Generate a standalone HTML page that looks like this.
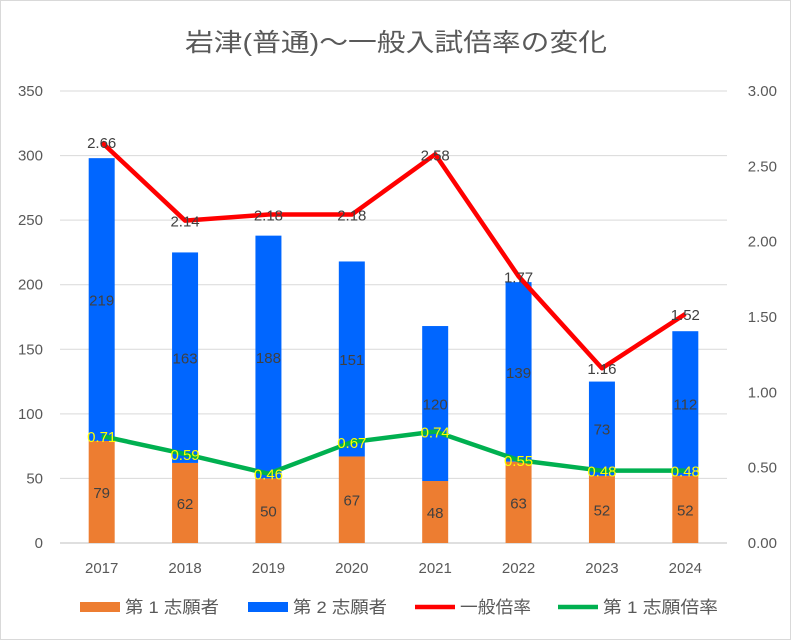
<!DOCTYPE html>
<html><head><meta charset="utf-8"><style>
body{margin:0;background:#fff;}
svg{display:block;font-family:"Liberation Sans","Noto Sans CJK JP",sans-serif;}
</style></head><body>
<svg id="c" width="791" height="640">
<rect x="0.5" y="0.5" width="790" height="639" fill="#fff" stroke="#d9d9d9"/>
<text x="185" y="51" font-size="25" textLength="422" lengthAdjust="spacingAndGlyphs" fill="#595959">岩津(普通)～一般入試倍率の変化</text>
<g id="grid"></g><g id="bars"></g><g id="lines"></g><g id="labels"></g><g id="axes"></g>
<g id="legend"></g>
</svg>
<script>
const categories=["2017","2018","2019","2020","2021","2022","2023","2024"];
const first=[79,62,50,67,48,63,52,52];
const second=[219,163,188,151,120,139,73,112];
const general=[2.66,2.14,2.18,2.18,2.58,1.77,1.16,1.52];
const firstRate=[0.71,0.59,0.46,0.67,0.74,0.55,0.48,0.48];
const leftTicks=[0,50,100,150,200,250,300,350];
const rightTicks=["0.00","0.50","1.00","1.50","2.00","2.50","3.00"];
const NS="http://www.w3.org/2000/svg";
const X0=60,X1=727,Y0=543,Y1=91;
const step=(X1-X0)/categories.length;
const xc=i=>X0+step*(i+0.5);
const yl=v=>Y0-(v/350)*(Y0-Y1);
const yr=v=>Y0-(v/3)*(Y0-Y1);
function mk(p,tag,a){const e=document.createElementNS(NS,tag);for(const k in a)e.setAttribute(k,a[k]);document.getElementById(p).appendChild(e);return e;}
leftTicks.forEach(t=>{
 const g=mk('grid','line',{x1:X0,x2:X1,y1:yl(t),y2:yl(t),stroke:t===0?'#bfbfbf':'#d9d9d9','stroke-width':1});
 
 
 const l=mk('axes','text',{x:43,y:yl(t)+5,'text-anchor':'end','font-size':15,fill:'#595959'});l.textContent=t;
 
 
});
rightTicks.forEach(t=>{
 const l=mk('axes','text',{x:777,y:yr(+t)+5,'text-anchor':'end','font-size':15,fill:'#595959'});l.textContent=t;
 
 
});
categories.forEach((c,i)=>{
 const l=mk('axes','text',{x:xc(i),y:573,'text-anchor':'middle','font-size':15,fill:'#595959'});l.textContent=c;
 
 
 const bw=26;
 const b1=mk('bars','rect',{x:xc(i)-bw/2,y:yl(first[i]),width:bw,height:Y0-yl(first[i]),fill:'#ed7d31'});
 
 
 const b2=mk('bars','rect',{x:xc(i)-bw/2,y:yl(first[i]+second[i]),width:bw,height:yl(first[i])-yl(first[i]+second[i]),fill:'#0066ff'});
 
 
 const t1=mk('labels','text',{x:xc(i),y:yl(first[i]/2)+6,'text-anchor':'middle','font-size':15,fill:'#404040'});t1.textContent=first[i];
 
 
 const t2=mk('labels','text',{x:xc(i),y:yl(first[i]+second[i]/2)+6,'text-anchor':'middle','font-size':15,fill:'#404040'});t2.textContent=second[i];
 
 
});
const pr=mk('lines','polyline',{points:general.map((v,i)=>xc(i)+','+yr(v)).join(' '),fill:'none',stroke:'#ff0000','stroke-width':4.5,'stroke-linejoin':'round'});


const pg=mk('lines','polyline',{points:firstRate.map((v,i)=>xc(i)+','+yr(v)).join(' '),fill:'none',stroke:'#00b050','stroke-width':4.5,'stroke-linejoin':'round'});


general.forEach((v,i)=>{
 const t=mk('labels','text',{x:xc(i),y:yr(v)+6,'text-anchor':'middle','font-size':15,fill:'#404040'});t.textContent=v.toFixed(2);
 
 
});
firstRate.forEach((v,i)=>{
 const t=mk('labels','text',{x:xc(i),y:yr(v)+6,'text-anchor':'middle','font-size':15,fill:'#ffff00'});t.textContent=v.toFixed(2);
 
 
});
const leg=[["第 1 志願者","#ed7d31","rect",80,94],["第 2 志願者","#0066ff","rect",248,94],["一般倍率","#ff0000","line",415,71],["第 1 志願倍率","#00b050","line",558,115]];
leg.forEach(([n,c,k,x,w])=>{
 let m;
 if(k==='rect')m=mk('legend','rect',{x:x,y:602,width:40,height:10,fill:c});
 else m=mk('legend','line',{x1:x,x2:x+40,y1:607,y2:607,stroke:c,'stroke-width':4.5});
 
 
 const t=mk('legend','text',{x:x+45,y:613,'font-size':17,fill:'#595959',textLength:w,lengthAdjust:'spacingAndGlyphs'});t.textContent=n;
 
 
});
</script>
</body></html>
